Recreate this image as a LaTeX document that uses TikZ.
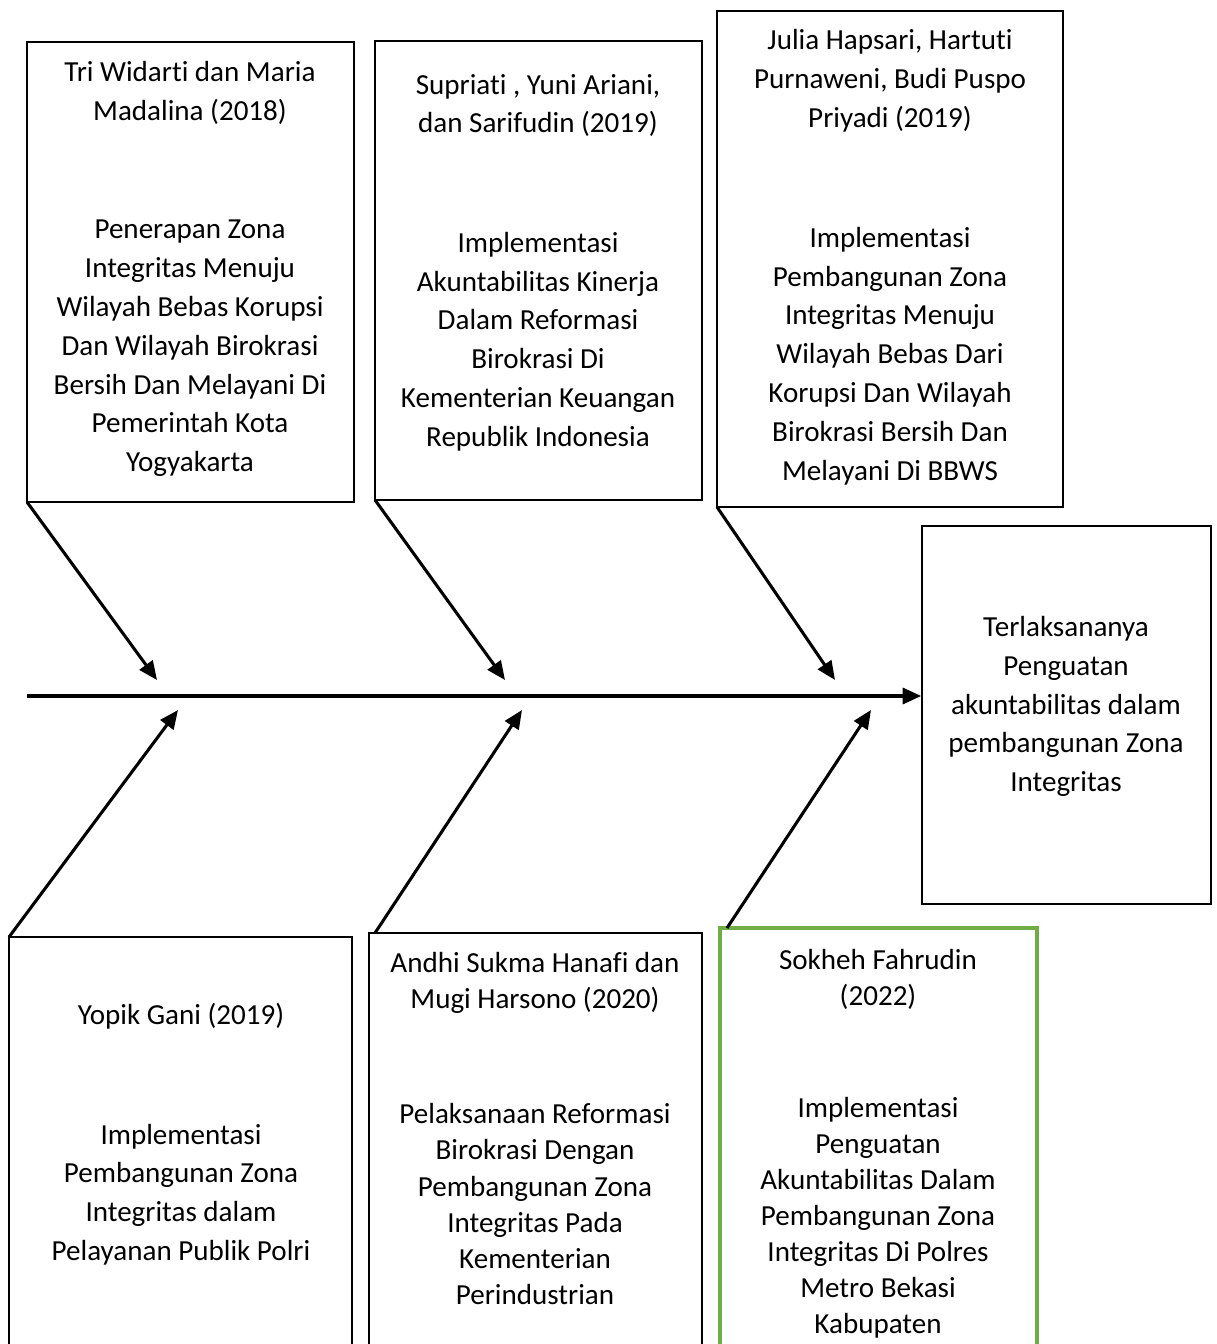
\documentclass[tikz,border=0pt]{standalone}
\usepackage{fontspec}
\setmainfont{Carlito}[Ligatures={NoCommon}]
\usetikzlibrary{arrows.meta}
\definecolor{boxgreen}{HTML}{70AD47}
\tikzset{
  box/.style={draw=black, line width=1.1pt},
  greenbox/.style={draw=boxgreen, line width=2.6pt},
  txt/.style={align=center, inner sep=0pt, font=\fontsize{21.8}{29.1}\selectfont},
  txtb/.style={align=center, inner sep=0pt, font=\fontsize{21.8}{27}\selectfont},
  arr/.style={line width=2.3pt, -{Triangle[length=14pt,width=12pt]}}
}
\begin{document}
\begin{tikzpicture}[x=0.75pt,y=-0.75pt]
\useasboundingbox (0,0) rectangle (1216,1344);
\fill[white] (0,0) rectangle (1216,1344);
% top boxes
\draw[box] (27,42) rectangle (354,502);
\coordinate (b1sw) at (27,502);
\draw[box] (375,41) rectangle (702,500);
\coordinate (b2sw) at (375,500);
\draw[box] (717,11) rectangle (1063,507);
\coordinate (b3sw) at (717,507);
% right box
\node[box, minimum width=289*0.75pt, minimum height=378*0.75pt, inner sep=0pt] (rb) at (1066.5,715) {};
% bottom boxes
\draw[box] (9,937) rectangle (352,1370);
\coordinate (b4nw) at (9,937);
\draw[box] (369,933) rectangle (702,1370);
\coordinate (b5nw) at (375,933);
\draw[greenbox] (720,928) rectangle (1037,1370);
\coordinate (b6nw) at (727,928);

% texts
\node[txt] (t1) at (190,93) {Tri Widarti dan Maria\\Madalina (2018)};
\node[txt] (d1) at (190,348.5) {Penerapan Zona\\Integritas Menuju\\Wilayah Bebas Korupsi\\Dan Wilayah Birokrasi\\Bersih Dan Melayani Di\\Pemerintah Kota\\Yogyakarta};
\node[txt] (t2) at (538,105.5) {Supriati , Yuni Ariani,\\dan Sarifudin (2019)};
\node[txt] (d2) at (538,341.5) {Implementasi\\Akuntabilitas Kinerja\\Dalam Reformasi\\Birokrasi Di\\Kementerian Keuangan\\Republik Indonesia};
\node[txt] (t3) at (890,80.5) {Julia Hapsari, Hartuti\\Purnaweni, Budi Puspo\\Priyadi (2019)};
\node[txt] (d3) at (890,356) {Implementasi\\Pembangunan Zona\\Integritas Menuju\\Wilayah Bebas Dari\\Korupsi Dan Wilayah\\Birokrasi Bersih Dan\\Melayani Di BBWS};
\node[txt] (tr) at (1066,706.5) {Terlaksananya\\Penguatan\\akuntabilitas dalam\\pembangunan Zona\\Integritas};
\node[txt] (t4) at (181,1016) {Yopik Gani (2019)};
\node[txt] (d4) at (181,1194.5) {Implementasi\\Pembangunan Zona\\Integritas dalam\\Pelayanan Publik Polri};
\node[txtb] (t5) at (535,982.5) {Andhi Sukma Hanafi dan\\Mugi Harsono (2020)};
\node[txtb] (d5) at (535,1204) {Pelaksanaan Reformasi\\Birokrasi Dengan\\Pembangunan Zona\\Integritas Pada\\Kementerian\\Perindustrian};
\node[txtb] (t6) at (878,979) {Sokheh Fahrudin\\(2022)};
\node[txtb] (d6) at (878,1218) {Implementasi\\Penguatan\\Akuntabilitas Dalam\\Pembangunan Zona\\Integritas Di Polres\\Metro Bekasi\\Kabupaten};

% spine
\coordinate (s0) at (27,696);
\draw[line width=2.6pt, -{Triangle[length=14pt,width=12pt]}] (s0) -- (s0 -| rb.west);

% arrow targets
\coordinate (e1) at (157,680);
\coordinate (e2) at (505,680);
\coordinate (e3) at (835,680);
\coordinate (e4) at (178,710);
\coordinate (e5) at (522,710);
\coordinate (e6) at (871,710);
\draw[arr] (b1sw) -- (e1);
\draw[arr] (b2sw) -- (e2);
\draw[arr] (b3sw) -- (e3);
\draw[arr] (b4nw) -- (e4);
\draw[arr] (b5nw) -- (e5);
\draw[arr] (b6nw) -- (e6);
\end{tikzpicture}
\end{document}
